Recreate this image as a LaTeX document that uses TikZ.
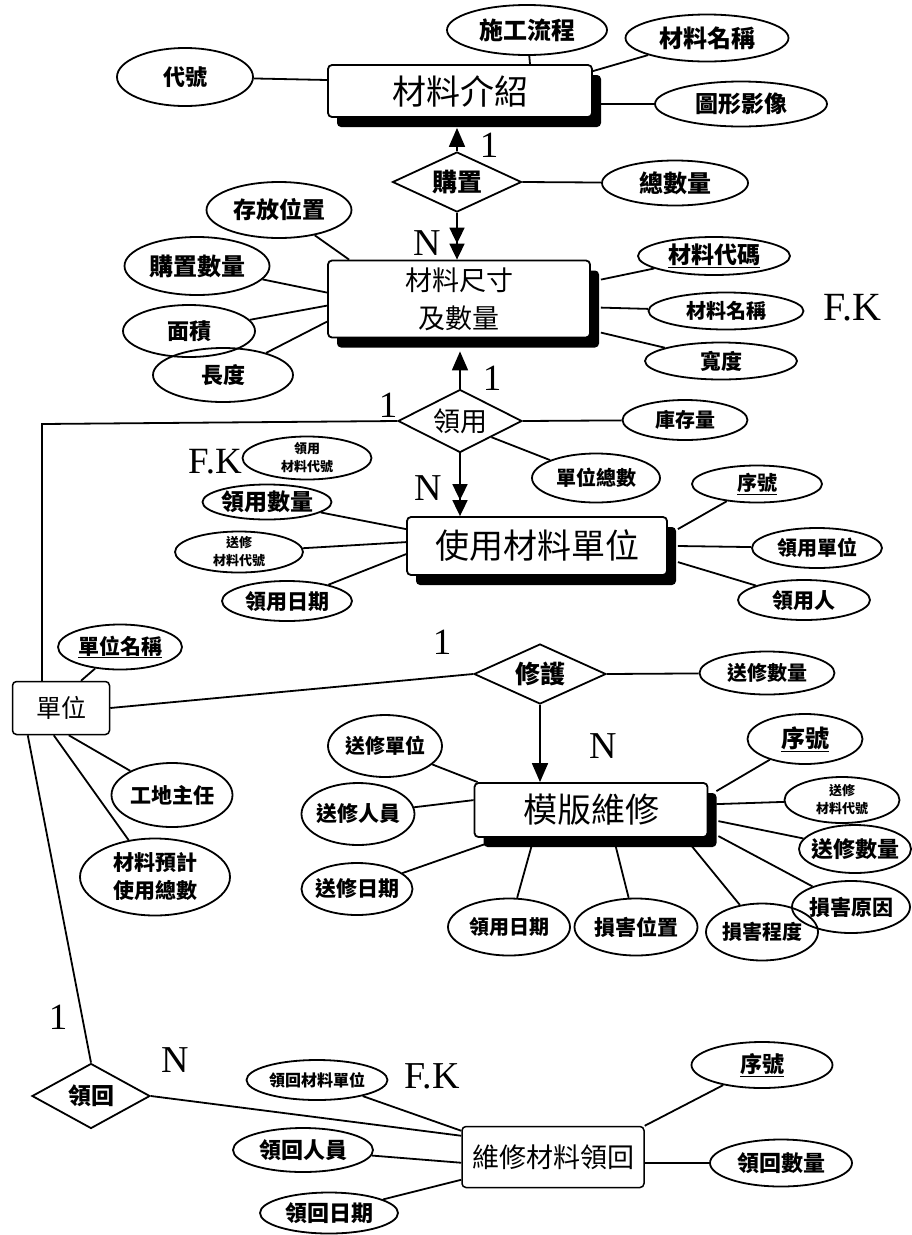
\documentclass[tikz,border=0pt]{standalone}
\usepackage{fontspec}
\setmainfont{Liberation Serif}
\newfontfamily\cjk{Noto Sans CJK TC}
\usetikzlibrary{shapes.geometric,shadows,arrows.meta}
\begin{document}
\begin{tikzpicture}[x=1pt,y=-1pt,
  conn/.style={line width=1.8pt},
  attr/.style={ellipse,draw,line width=1.8pt,inner xsep=-8pt,inner ysep=-4pt,align=center,
    font=\cjk\bfseries\fontsize{#1}{#1}\selectfont},
  attr/.default=21,
  ent/.style={rectangle,rounded corners=4pt,draw,line width=1.8pt,fill=white,inner sep=0pt,align=center},
  shd/.style={drop shadow={shadow xshift=9pt,shadow yshift=-10pt,fill=black,opacity=1}},
  rel/.style={diamond,draw,line width=1.8pt,inner sep=0pt,aspect=2,fill=white,
    font=\cjk\bfseries\fontsize{#1}{#1}\selectfont},
  rel/.default=25,
  card/.style={inner sep=0pt,font=\fontsize{#1}{#1}\selectfont},
  card/.default=37,
  one/.style={-{Triangle[length=19pt,width=16pt]}},
  two/.style={-{Triangle[length=16pt,width=15pt]Triangle[length=16pt,width=15pt]}}
]
\useasboundingbox (0,0) rectangle (911,1235);

% ---------- entities ----------
\node[ent,shd,minimum width=264pt,minimum height=52pt,font=\cjk\fontsize{34}{34}\selectfont] (m1) at (460,91) {材料介紹};
\node[ent,shd,minimum width=262pt,minimum height=77pt,font=\cjk\fontsize{27}{38}\selectfont] (m2) at (459,299) {材料尺寸\\及數量};
\node[ent,shd,minimum width=260pt,minimum height=58pt,font=\cjk\fontsize{34}{34}\selectfont] (m3) at (537,546) {使用材料單位};
\node[ent,shd,minimum width=233pt,minimum height=54pt,font=\cjk\fontsize{34}{34}\selectfont] (m4) at (591,810) {模版維修};
\node[ent,line width=1.5pt,minimum width=182pt,minimum height=61pt,font=\cjk\fontsize{27}{27}\selectfont] (m5) at (553,1157) {維修材料領回};
\node[ent,line width=1.5pt,minimum width=97pt,minimum height=53pt,font=\cjk\fontsize{25}{25}\selectfont] (dw) at (61,708) {單位};

% ---------- relationships ----------
\node[rel=25,minimum width=129pt,minimum height=60pt] (d1) at (457,182) {購置};
\node[rel=27,minimum width=124pt,minimum height=63pt,font=\cjk\fontsize{27}{27}\selectfont] (d2) at (460,421) {領用};
\node[rel=25,minimum width=132pt,minimum height=60pt] (d3) at (540,674) {修護};
\node[rel=23,minimum width=118pt,minimum height=65pt] (d4) at (91,1096) {領回};

% ---------- attributes ----------
\node[attr=22,minimum width=136pt,minimum height=58pt] (dh) at (185,77) {代號};
\node[attr=24,minimum width=160pt,minimum height=50pt] (sg) at (527,30) {施工流程};
\node[attr=24,minimum width=163pt,minimum height=47pt] (mn1) at (707,38) {材料名稱};
\node[attr=23,minimum width=172pt,minimum height=45pt] (tx) at (741,104) {圖形影像};
\node[attr=24,minimum width=146pt,minimum height=45pt] (zsl) at (675,183) {總數量};

\node[attr=23,minimum width=145pt,minimum height=56pt] (sf) at (279,210) {存放位置};
\node[attr=24,minimum width=145pt,minimum height=58pt] (gz) at (197,266) {購置數量};
\node[attr=22,minimum width=132pt,minimum height=52pt] (mj) at (189,331) {面積};
\node[attr=22,minimum width=140pt,minimum height=54pt] (cd) at (223,375) {長度};
\node[attr=23,minimum width=152pt,minimum height=38pt] (mc) at (714,256) {\underline{材料代碼}};
\node[attr=20,minimum width=155pt,minimum height=37pt] (mn2) at (726,311) {材料名稱};
\node[attr=21,minimum width=152pt,minimum height=37pt] (kd) at (721,361) {寬度};

\node[attr=20,minimum width=125pt,minimum height=40pt] (kc) at (685,420) {庫存量};
\node[attr=20,minimum width=128pt,minimum height=49pt] (dz) at (596,478) {單位總數};
\node[attr=13,minimum width=129pt,minimum height=43pt,font=\cjk\bfseries\fontsize{13}{18}\selectfont] (lyc) at (307,458) {領用\\材料代號};
\node[attr=23,minimum width=129pt,minimum height=35pt] (ly1) at (267,502) {領用數量};
\node[attr=13,minimum width=128pt,minimum height=41pt,font=\cjk\bfseries\fontsize{13}{18}\selectfont] (sx1) at (239,552) {送修\\材料代號};
\node[attr=21,minimum width=130pt,minimum height=40pt] (lr1) at (287,601) {領用日期};
\node[attr=20,minimum width=130pt,minimum height=37pt] (xh1) at (757,484) {\underline{序號}};
\node[attr=20,minimum width=130pt,minimum height=40pt] (ld) at (817,548) {領用單位};
\node[attr=21,minimum width=132pt,minimum height=40pt] (lp) at (804,600) {領用人};

\node[attr=21,minimum width=124pt,minimum height=45pt] (dm) at (120,647) {\underline{單位名稱}};
\node[attr=21,minimum width=121pt,minimum height=64pt] (gd) at (172,795) {工地主任};
\node[attr=21,minimum width=150pt,minimum height=77pt,font=\cjk\bfseries\fontsize{21}{28}\selectfont] (yj) at (155,877) {材料預計\\使用總數};
\node[attr=20,minimum width=135pt,minimum height=43pt] (sl) at (767,673) {送修數量};

\node[attr=20,minimum width=114pt,minimum height=62pt] (sd) at (385,746) {送修單位};
\node[attr=21,minimum width=113pt,minimum height=62pt] (sr) at (358,814) {送修人員};
\node[attr=21,minimum width=111pt,minimum height=52pt] (sq) at (357,889) {送修日期};
\node[attr=20,minimum width=122pt,minimum height=57pt] (ly2) at (509,927) {領用日期};
\node[attr=21,minimum width=123pt,minimum height=57pt] (sw) at (636,927) {損害位置};
\node[attr=20,minimum width=112pt,minimum height=57pt] (sc) at (762,932) {損害程度};
\node[attr=21,minimum width=118pt,minimum height=52pt] (sy) at (851,907) {損害原因};
\node[attr=22,minimum width=112pt,minimum height=48pt] (sl2) at (855,849) {送修數量};
\node[attr=13,minimum width=115pt,minimum height=46pt,font=\cjk\bfseries\fontsize{13}{18}\selectfont] (sx2) at (842,800) {送修\\材料代號};
\node[attr=24,minimum width=115pt,minimum height=50pt] (xh2) at (805,739) {\underline{序號}};

\node[attr=16,minimum width=141pt,minimum height=40pt] (lh) at (317,1080) {領回材料單位};
\node[attr=22,minimum width=140pt,minimum height=44pt] (lry) at (303,1150) {領回人員};
\node[attr=22,minimum width=138pt,minimum height=41pt] (lrq) at (329,1213) {領回日期};
\node[attr=22,minimum width=141pt,minimum height=46pt] (xh3) at (762,1065) {\underline{序號}};
\node[attr=22,minimum width=142pt,minimum height=47pt] (lsl) at (781,1163) {領回數量};

% ---------- cardinality / key labels ----------
\node[card] (c1a) at (489,145) {1};
\node[card=38] (cNa) at (427,243) {N};
\node[card=40] (fk1) at (852,308) {F.K};
\node[card] (c1b) at (492,378) {1};
\node[card] (c1c) at (388,405) {1};
\node[card] (fk2) at (215,462) {F.K};
\node[card=38] (cNb) at (428,488) {N};
\node[card] (c1d) at (442,642) {1};
\node[card=38] (cNc) at (603,746) {N};
\node[card] (c1e) at (58,1017) {1};
\node[card=38] (cNd) at (175,1060) {N};
\node[card=38] (fk3) at (432,1076) {F.K};

\coordinate (c1) at (42,424);

% ---------- connectors ----------
% 材料介紹
\draw[conn] (dh) -- ([yshift=11pt]m1.west);
\draw[conn] (sg) -- ([xshift=70pt]m1.north);
\draw[conn] (mn1) -- ([yshift=-7pt]m1.north east);
\draw[conn] (tx) -- (m1.east |- tx);
% 購置
\draw[conn,one,shorten >=10pt] (d1.north) -- (d1.north |- m1.south);
\draw[conn] (d1.east) -- (zsl);
\draw[conn,two] (d1.south) -- (d1.south |- m2.north);
% 材料尺寸及數量
\draw[conn] (sf) -- ([xshift=22pt]m2.north west);
\draw[conn] (gz) -- ([yshift=-33pt]m2.north west);
\draw[conn] (mj) -- ([yshift=-46pt]m2.north west);
\draw[conn] (cd) -- ([yshift=-62pt]m2.north west);
\draw[conn] (mc) -- ([xshift=10pt,yshift=-20pt]m2.north east);
\draw[conn] (mn2) -- ([xshift=10pt,yshift=-48pt]m2.north east);
\draw[conn] (kd) -- ([xshift=10pt,yshift=-73pt]m2.north east);
% 領用
\draw[conn,one,shorten >=13pt] (d2.north) -- (d2.north |- m2.south);
\draw[conn] (d2.west) -- (c1) -- (c1 |- dw.north);
\draw[conn] (d2.east) -- (kc);
\draw[conn] (d2.south east) -- (dz);
\draw[conn,two] (d2.south) -- (d2.south |- m3.north);
% 使用材料單位
\draw[conn] (ly1) -- ([yshift=-13pt]m3.north west);
\draw[conn] (sx1) -- ([yshift=-26pt]m3.north west);
\draw[conn] (lr1) -- ([yshift=-38pt]m3.north west);
\draw[conn] (xh1) -- ([xshift=10pt,yshift=-13pt]m3.north east);
\draw[conn] ([xshift=10pt]m3.east) -- (ld);
\draw[conn] (lp) -- ([xshift=10pt,yshift=-46pt]m3.north east);
% 單位
\draw[conn] (dm) -- ([xshift=20pt]dw.north);
\draw[conn] (dw.east) -- (d3.west);
\draw[conn] (gd) -- ([xshift=57pt]dw.south west);
\draw[conn] (yj) -- ([xshift=42pt]dw.south west);
\draw[conn] (d4.north) -- ([xshift=16pt]dw.south west);
% 修護
\draw[conn] (d3.east) -- (sl);
\draw[conn,one] (d3.south) -- (d3.south |- m4.north);
% 模版維修
\draw[conn] (sd) -- ([xshift=4pt]m4.north west);
\draw[conn] (sr) -- ([yshift=-18pt]m4.north west);
\draw[conn] (sq) -- ([xshift=12pt,yshift=-6pt]m4.south west);
\draw[conn] (ly2) -- ([xshift=58pt,yshift=-8pt]m4.south west);
\draw[conn] (sw) -- ([xshift=142pt,yshift=-8pt]m4.south west);
\draw[conn] (sc) -- ([xshift=218pt,yshift=-8pt]m4.south west);
\draw[conn] (xh2) -- ([xshift=8pt,yshift=-9pt]m4.north east);
\draw[conn] (sx2) -- ([xshift=8pt,yshift=-22pt]m4.north east);
\draw[conn] (sl2) -- ([xshift=10pt,yshift=-39pt]m4.north east);
\draw[conn] (sy) -- ([xshift=10pt,yshift=-54pt]m4.north east);
% 領回 / 維修材料領回
\draw[conn] (d4.east) -- ([yshift=-10pt]m5.north west);
\draw[conn] (lh) -- ([yshift=-5pt]m5.north west);
\draw[conn] (lry) -- ([yshift=-37pt]m5.north west);
\draw[conn] (lrq) -- ([yshift=-54pt]m5.north west);
\draw[conn] (xh3) -- (m5.north east);
\draw[conn] (m5.east |- lsl) -- (lsl);
\end{tikzpicture}
\end{document}
